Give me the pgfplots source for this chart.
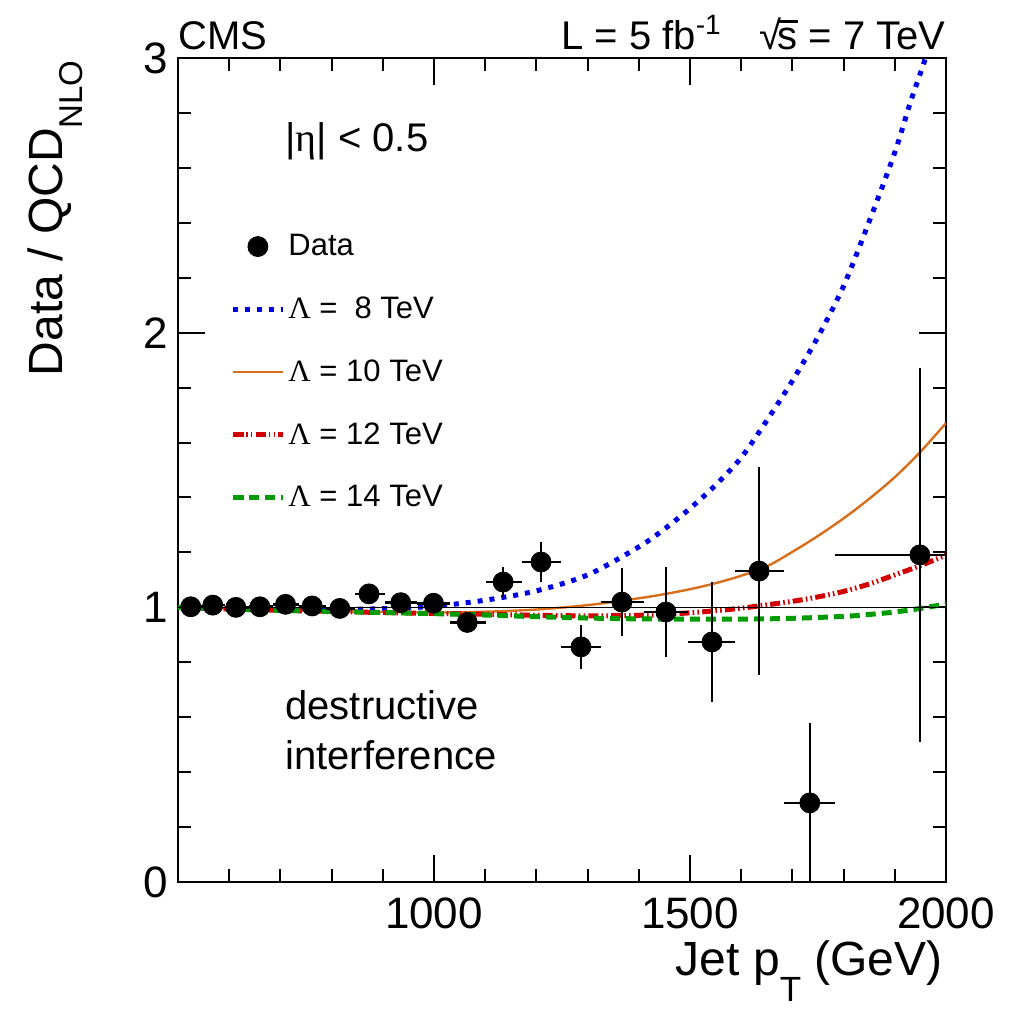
\documentclass[border=0pt]{standalone}
\usepackage{pgfplots}
\usepackage{pgfplotstable}
\pgfplotsset{compat=1.18}
\usepackage{fontspec}
\setmainfont{Liberation Sans}
\newfontfamily\grk{Liberation Serif}
\definecolor{cblue}{RGB}{0,0,230}
\definecolor{corange}{RGB}{214,110,28}
\definecolor{cred}{RGB}{210,0,0}
\definecolor{cgreen}{RGB}{0,155,0}
\newcommand{\fs}[1]{\fontsize{#1}{#1}\selectfont}
\newcommand{\sqrts}{√\kern-0.1em\rlap{\rule[0.68em]{0.5em}{0.06em}}s}
\newcommand{\Lam}{{\grk Λ}}

\pgfplotstableread{
x     y      exm  exp  ey
525   1.002  18   23   0.006
568   1.008  20   24   0.006
613   1.000  21   25   0.006
660   1.002  22   26   0.007
710   1.011  24   27   0.008
762   1.005  25   28   0.009
816   0.996  26   30   0.011
873   1.049  27   32   0.014
935   1.017  30   32   0.018
999   1.015  32   33   0.022
1065  0.945  33   36   0.030
1135  1.092  34   37   0.055
1209  1.165  37   39   0.073
1287  0.856  39   40   0.080
1367  1.019  40   43   0.125
1453  0.983  43   44   0.165
1543  0.874  46   45   0.220
1635  1.132  47   49   0.380
1734  0.288  50   50   0.290
1949  1.191  165  61   0.680
}\datatab

\pgfplotstableread{
x     y
500   1.000
600   0.997
700   0.993
800   0.992
900   0.995
1000  1.004
1100  1.026
1200  1.060
1300  1.118
1400  1.220
1450  1.285
1500  1.360
1550  1.445
1600  1.545
1650  1.680
1700  1.825
1750  1.985
1800  2.170
1850  2.405
1900  2.656
1930  2.836
1960  3.000
1990  3.180
}\lameight

\pgfplotstableread{
x     y
500   1.000
600   0.995
700   0.990
800   0.986
900   0.983
1000  0.981
1100  0.984
1200  0.992
1300  1.008
1400  1.033
1450  1.048
1500  1.066
1550  1.088
1600  1.115
1650  1.149
1700  1.202
1750  1.260
1800  1.324
1850  1.395
1900  1.474
1950  1.566
2000  1.671
}\lamten

\pgfplotstableread{
x     y
500   1.000
600   0.994
700   0.989
800   0.985
900   0.981
1000  0.978
1100  0.975
1200  0.971
1300  0.969
1400  0.971
1500  0.980
1600  0.997
1700  1.022
1750  1.038
1800  1.058
1850  1.085
1900  1.118
1950  1.152
2000  1.190
}\lamtwelve

\pgfplotstableread{
x     y
500   1.000
600   0.994
700   0.989
800   0.985
900   0.981
1000  0.977
1100  0.972
1200  0.966
1300  0.961
1400  0.958
1500  0.957
1600  0.957
1700  0.960
1800  0.967
1850  0.974
1900  0.983
1950  0.996
2000  1.012
}\lamfourteen

\begin{document}
\begin{tikzpicture}
\useasboundingbox (-89bp,-64.5bp) rectangle (423.5bp,441bp);
\begin{axis}[
  scale only axis, width=384bp, height=412bp,
  xmin=500, xmax=2000, ymin=0, ymax=3,
  xtick={1000,1500,2000}, xticklabels={1000,1500,2000},
  minor xtick={600,700,800,900,1100,1200,1300,1400,1600,1700,1800,1900},
  ytick={0,1,2,3}, yticklabels={0,1,2,3},
  minor ytick={0.2,0.4,0.6,0.8,1.2,1.4,1.6,1.8,2.2,2.4,2.6,2.8},
  major tick length=13.5bp, minor tick length=6.5bp,
  tick align=inside,
  axis line style={line width=1bp},
  every tick/.style={black, line width=1bp},
  /pgf/number format/assume math mode=true,
  ticklabel style={font=\fs{22bp}},
  xticklabel style={inner sep=0pt, yshift=-7.5bp},
  yticklabel style={inner sep=0pt, xshift=-5bp},
  clip mode=individual,
  legend style={draw=none, fill=none, at={(rel axis cs:0,1)}, anchor=north west,
    xshift=26bp, yshift=-86.5bp, inner sep=0pt, row sep=16.1bp,
    font=\fs{15.5bp}, nodes={inner sep=1.5bp}},
  legend cell align=left,
  legend image code/.code={\draw[mark repeat=2,mark phase=2,#1] plot coordinates {(0bp,0bp) (12.5bp,0bp) (25bp,0bp)};},
]
\addlegendimage{only marks, mark=*, mark size=5bp, black}
\addlegendentry{Data}
\addplot[cblue, line width=2.5bp, dash pattern=on 2.5bp off 3.5bp, smooth] table[x=x,y=y]{\lameight};
\addlegendentry{\Lam\ =\hspace{0.55em}8 TeV}
\addplot[corange, line width=1.2bp, smooth] table[x=x,y=y]{\lamten};
\addlegendentry{\Lam\ = 10 TeV}
\addplot[cred, line width=2.5bp, dash pattern=on 5bp off 1.6bp on 0.8bp off 1.6bp on 0.8bp off 1.6bp, smooth] table[x=x,y=y]{\lamtwelve};
\addlegendentry{\Lam\ = 12 TeV}
\addplot[cgreen, line width=2.5bp, dash pattern=on 5bp off 3bp, smooth] table[x=x,y=y]{\lamfourteen};
\addlegendentry{\Lam\ = 14 TeV}
\addplot[black, line width=0.6bp, forget plot] coordinates {(500,1) (2000,1)};
\addplot[only marks, mark=*, mark size=5bp, black, forget plot,
  error bars/.cd, x dir=both, x explicit, y dir=both, y explicit,
  error bar style={line width=1.3bp, black}, error mark=none]
  table[x=x, y=y, x error minus=exm, x error plus=exp, y error=ey]{\datatab};

\node[anchor=base west, font=\fs{20bp}, inner sep=0pt] at (axis cs:709,2.658) {|{\grk η}| < 0.5};
\node[anchor=base west, font=\fs{20bp}, inner sep=0pt] at (axis cs:709,0.59) {destructive};
\node[anchor=base west, font=\fs{20bp}, inner sep=0pt] at (axis cs:709,0.408) {interference};
\node[anchor=base west, font=\fs{20bp}, inner sep=0pt] at ([yshift=4bp]rel axis cs:0,1) {CMS};
\node[anchor=base east, font=\fs{20bp}, inner sep=0pt] at ([yshift=4bp]rel axis cs:1,1) {L = 5 fb\textsuperscript{-1}\hspace{0.95em}\sqrts\ = 7 TeV};
\node[rotate=90, anchor=base east, font=\fs{24bp}, inner sep=0pt] at ([xshift=-57.5bp,yshift=-1bp]rel axis cs:0,1) {Data / QCD\raisebox{-10bp}{\fs{16.5bp}NLO}};
\node[anchor=base east, font=\fs{24bp}, inner sep=0pt] at ([xshift=-1.5bp,yshift=-46.5bp]rel axis cs:1,0) {Jet p\raisebox{-13bp}{\fs{17.5bp}T} (GeV)};
\end{axis}
\end{tikzpicture}
\end{document}
